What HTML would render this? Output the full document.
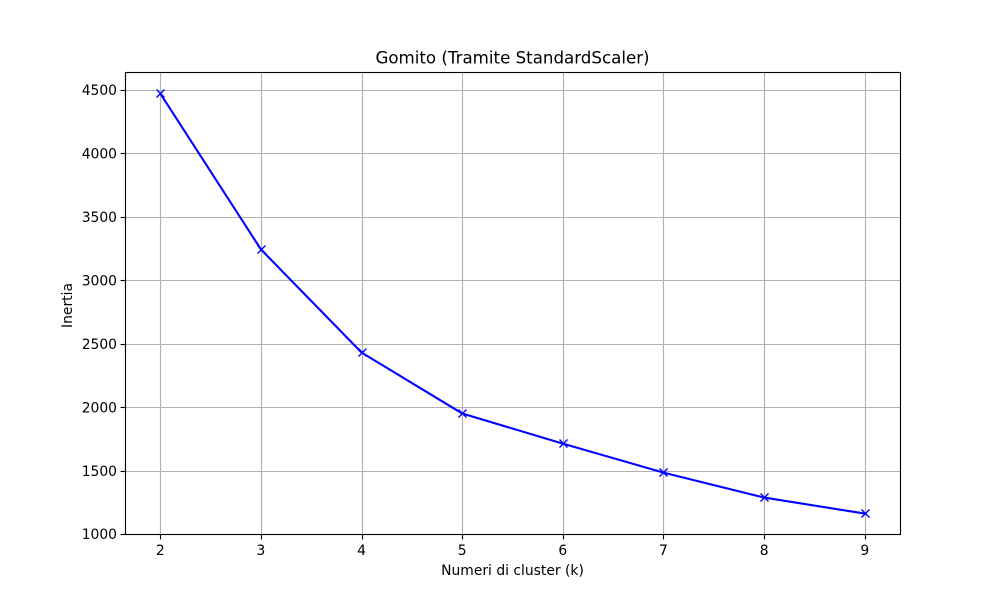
<!DOCTYPE html>
<html lang="it">
<head>
<meta charset="utf-8">
<title>Gomito (Tramite StandardScaler)</title>
<style>
html,body{margin:0;padding:0;background:#fff;}
svg{display:block;}
text{font-family:"DejaVu Sans",sans-serif;fill:#000;}
</style>
</head>
<body>
<svg id="chart" xmlns="http://www.w3.org/2000/svg" width="1000" height="600" viewBox="0 0 1000 600"></svg>
<script>
const categories = [2, 3, 4, 5, 6, 7, 8, 9];
const inertiaValues = [4472, 3243, 2430, 1950, 1712, 1484, 1287, 1161];
const xTickLabels = ["2", "3", "4", "5", "6", "7", "8", "9"];
const yTickLabels = ["1000", "1500", "2000", "2500", "3000", "3500", "4000", "4500"];

const svg = document.getElementById('chart');
const NS = 'http://www.w3.org/2000/svg';
const plotLeft = 125, plotRight = 900, plotTop = 72, plotBottom = 534;
const scaleX = v => plotLeft + (v - 1.65) * (plotRight - plotLeft) / 7.7;
const scaleY = v => plotBottom - (v - 1000) * 63.45 / 500;
const snap = p => Math.round(p) + 0.5;

function make(tag, attrs, parent) {
  const el = document.createElementNS(NS, tag);
  for (const k in attrs) el.setAttribute(k, attrs[k]);
  (parent || svg).appendChild(el);
  return el;
}

const gridGroup = make('g', {stroke: '#b0b0b0', 'stroke-width': 1.11});


const tickGroup = make('g', {stroke: '#000', 'stroke-width': 1.11});



xTickLabels.forEach(label => {
  const x = scaleX(Number(label));
  const sx = snap(x);
  const g = make('line', {x1: sx, x2: sx, y1: plotTop, y2: plotBottom}, gridGroup);
  
  
  const t = make('line', {x1: sx, x2: sx, y1: plotBottom, y2: plotBottom + 5.4}, tickGroup);
  
  
  const txt = make('text', {x: x, y: 555, 'text-anchor': 'middle', 'font-size': 13.89});
  
  
  txt.textContent = label;
});

yTickLabels.forEach(label => {
  const y = scaleY(Number(label));
  const sy = snap(y);
  const g = make('line', {x1: plotLeft, x2: plotRight, y1: sy, y2: sy}, gridGroup);
  
  
  const t = make('line', {x1: plotLeft - 4.4, x2: plotLeft, y1: sy, y2: sy}, tickGroup);
  
  
  const txt = make('text', {x: plotLeft - 8, y: y + 5.2, 'text-anchor': 'end', 'font-size': 13.89});
  
  
  txt.textContent = label;
});

const points = categories.map((c, i) => [scaleX(c), scaleY(inertiaValues[i])]);
const line = make('polyline', {
  points: points.map(p => p.join(',')).join(' '),
  fill: 'none', stroke: '#0000ff', 'stroke-width': 2.08, 'stroke-linejoin': 'round'
});



points.forEach(p => {
  const r = 4;
  const cx = Math.round(p[0]) + 0.5, cy = Math.floor(p[1]) + 0.5;
  const m = make('path', {
    d: `M${cx-r},${cy-r}L${cx+r},${cy+r}M${cx-r},${cy+r}L${cx+r},${cy-r}`,
    fill: 'none', stroke: '#0000ff', 'stroke-width': 1.39
  });
  
  
});

const frame = make('rect', {
  x: plotLeft + 0.5, y: plotTop + 0.5, width: plotRight - plotLeft, height: plotBottom - plotTop,
  fill: 'none', stroke: '#000', 'stroke-width': 1.11
});



const title = make('text', {x: 512.5, y: 63.5, 'text-anchor': 'middle', 'font-size': 16.67});


title.textContent = 'Gomito (Tramite StandardScaler)';

const xTitle = make('text', {x: 512.5, y: 575, 'text-anchor': 'middle', 'font-size': 13.89});


xTitle.textContent = 'Numeri di cluster (k)';

const yTitle = make('text', {x: 0, y: 0, 'text-anchor': 'middle', 'font-size': 13.89, transform: 'translate(72 305.5) rotate(-90)'});


yTitle.textContent = 'Inertia';
</script>
</body>
</html>
